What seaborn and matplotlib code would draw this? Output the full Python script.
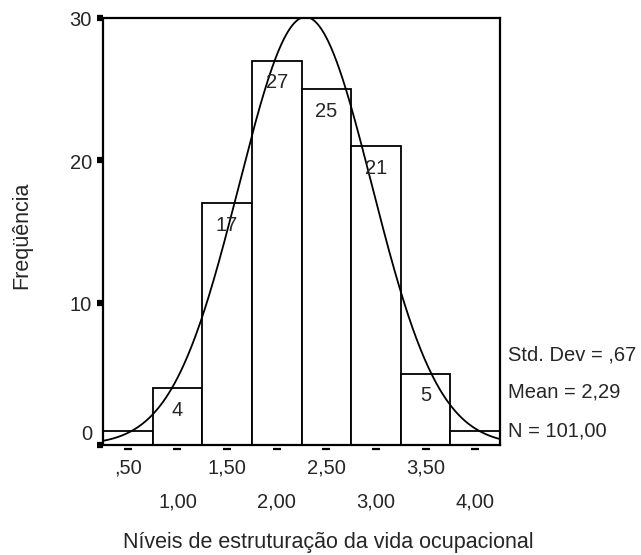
import numpy as np
import pandas as pd
import matplotlib
matplotlib.use('Agg')
import matplotlib.pyplot as plt
import seaborn as sns
from matplotlib.transforms import offset_copy

bin_centers = [0.5, 1.0, 1.5, 2.0, 2.5, 3.0, 3.5, 4.0]
counts = [1, 4, 17, 27, 25, 21, 5, 1]
bar_labels = ['', '4', '17', '27', '25', '21', '5', '']
x_tick_labels = [',50', '1,00', '1,50', '2,00', '2,50', '3,00', '3,50', '4,00']
y_ticks = [0, 10, 20, 30]
y_tick_labels = ['0', '10', '20', '30']
stats_lines = ['Std. Dev = ,67', 'Mean = 2,29', 'N = 101,00']
std_dev = 0.67
mean = 2.29
n_total = 101
bin_width = 0.5

sns.set_theme(style='white')
plt.rcParams['font.family'] = ['Liberation Sans', 'DejaVu Sans']
FS = 14.5
FS_LABEL = 15.5

W, H = 641, 555
fig = plt.figure(figsize=(W / 100, H / 100), dpi=100)
ax = fig.add_axes([103 / W, 110 / H, 397 / W, 427 / H])

df = pd.DataFrame({'nivel': bin_centers, 'freq': counts})
edges = [c - bin_width / 2 for c in bin_centers] + [bin_centers[-1] + bin_width / 2]
sns.histplot(data=df, x='nivel', weights='freq', bins=edges, ax=ax,
             color='white', edgecolor='black', linewidth=1.3, alpha=1)

# curva normal
xs = np.linspace(edges[0], edges[-1], 400)
ys = n_total * bin_width * np.exp(-0.5 * ((xs - mean) / std_dev) ** 2) / (std_dev * np.sqrt(2 * np.pi))
ax.plot(xs, ys, color='black', lw=1.3)

ax.set_xlim(edges[0], edges[-1])
ax.set_ylim(0, 30)
ax.set_xlabel('')
ax.set_ylabel('')
for s in ax.spines.values():
    s.set_visible(True)
    s.set_color('black')
    s.set_linewidth(1.6)

# rótulos das barras
for c, n, lab in zip(bin_centers, counts, bar_labels):
    if lab:
        ax.annotate(lab, xy=(c, n), xytext=(0, -22), textcoords='offset pixels',
                    ha='center', va='center', fontsize=FS)

# eixo y: quadrados pretos
ax.set_yticks(y_ticks)
ax.set_yticklabels([])
ax.tick_params(axis='y', direction='out', length=4.5, width=4.5, color='black', left=True)
for v, lab in zip(y_ticks, y_tick_labels):
    dy = 10 if v == 0 else -3
    ax.annotate(lab, xy=(0, v), xycoords=('axes fraction', 'data'), xytext=(-11, dy),
                textcoords='offset pixels', ha='right', va='center', fontsize=FS)

# eixo x: traços e rótulos em duas linhas
ax.set_xticks([])
trans = offset_copy(ax.get_xaxis_transform(), fig=fig, x=0, y=-4, units='dots')
ax.plot(bin_centers, [0] * len(bin_centers), transform=trans, ls='none', marker='_',
        ms=5.5, mew=1.6, color='black', clip_on=False)
for i, (c, lab) in enumerate(zip(bin_centers, x_tick_labels)):
    dy = -23 if i % 2 == 0 else -57
    ax.annotate(lab, xy=(c, 0), xycoords=('data', 'axes fraction'), xytext=(0, dy),
                textcoords='offset pixels', ha='center', va='center', fontsize=FS)

# estatísticas
for yp, txt in zip([355, 392, 431], stats_lines):
    fig.text(508 / W, 1 - yp / H, txt, ha='left', va='center', fontsize=FS)

fig.text(22 / W, 1 - 235 / H, 'Freqüência', rotation=90, ha='center', va='center', fontsize=FS_LABEL)
fig.text(328 / W, 1 - 548 / H, 'Níveis de estruturação da vida ocupacional',
         ha='center', va='baseline', fontsize=FS_LABEL)

fig.savefig('out.png', dpi=100)
